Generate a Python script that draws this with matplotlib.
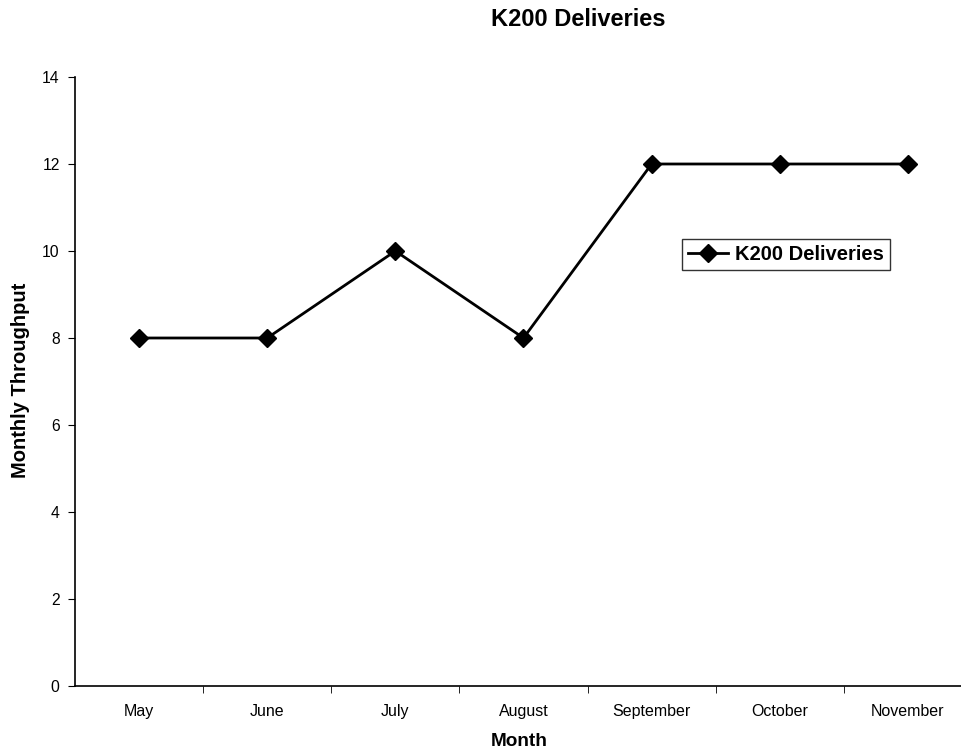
import matplotlib.pyplot as plt
import numpy as np

plt.rcParams['font.family'] = ['Liberation Sans', 'DejaVu Sans']

# monthly K200 deliveries
months = ["May", "June", "July", "August", "September", "October", "November"]
deliveries = [8, 8, 10, 8, 12, 12, 12]

fig = plt.figure(figsize=(9.62, 7.55), dpi=100)
ax = fig.add_axes([75 / 962, 69 / 755, 897 / 962, 609 / 755])

x = np.arange(len(months))
ax.plot(x, deliveries, color='black', lw=2, marker='D', ms=9,
        label='K200 Deliveries')

ax.set_xlim(-0.5, len(months) - 0.5)
ax.set_ylim(0, 14)
ax.set_yticks(range(0, 15, 2))

# category labels centred, tick marks between categories
ax.set_xticks(x)
ax.set_xticklabels(months, fontsize=11.5)
ax.tick_params(axis='x', which='major', length=0, pad=13)
ax.set_xticks(x[:-1] + 0.5, minor=True)
ax.tick_params(axis='x', which='minor', length=5, direction='out')
ax.tick_params(axis='y', length=5, direction='out', labelsize=11.3, pad=6)

for side in ['top', 'right']:
    ax.spines[side].set_visible(False)
ax.spines['left'].set_linewidth(1.2)
ax.spines['bottom'].set_linewidth(1.2)

fig.text(21 / 962, 1 - 380 / 755, 'Monthly Throughput', fontsize=14.5,
         fontweight='bold', rotation=90, ha='center', va='center')
fig.text(519 / 962, 14 / 755, 'Month', fontsize=13.7, fontweight='bold',
         ha='center', va='center')
fig.text(578 / 962, 1 - 20 / 755, 'K200 Deliveries', fontsize=17,
         fontweight='bold', ha='center', va='center')

leg = ax.legend(loc='upper left', bbox_to_anchor=(682 / 962, 1 - 239 / 755),
                bbox_transform=fig.transFigure, frameon=True, fancybox=False,
                edgecolor='black', borderpad=0.3, borderaxespad=0,
                handlelength=2.0, handletextpad=0.35,
                prop={'size': 14.5, 'weight': 'bold'})
leg.get_frame().set_linewidth(1.0)

fig.savefig('out.png', dpi=100)
